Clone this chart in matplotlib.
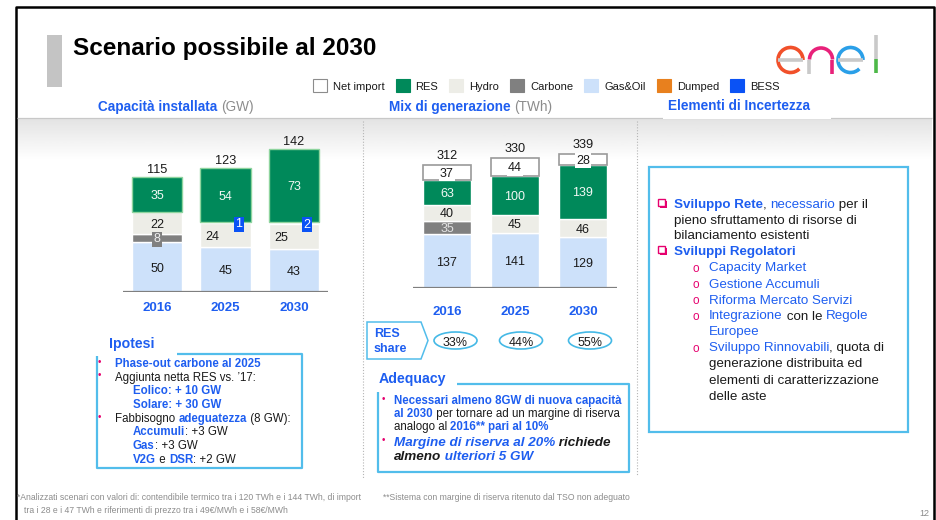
import numpy as np
import matplotlib
matplotlib.use("Agg")
import matplotlib.pyplot as plt
from matplotlib import patches

plt.rcParams['font.family'] = ['Liberation Sans', 'DejaVu Sans']

# --- data ---
years = ['2016', '2025', '2030']

cap_gas = np.array([50, 45, 43])
cap_carbone = np.array([8, 0, 0])
cap_hydro = np.array([22, 24, 25])
cap_bess = np.array([0, 1, 2])
cap_res = np.array([35, 54, 73])
cap_total = [115, 123, 142]

gen_gas = np.array([137, 141, 129])
gen_carbone = np.array([35, 0, 0])
gen_hydro = np.array([40, 45, 46])
gen_res = np.array([63, 100, 139])
gen_import = np.array([37, 44, 28])
gen_total = [312, 330, 339]
res_share = ['33%', '44%', '55%']

legend_labels = ['Net import', 'RES', 'Hydro', 'Carbone', 'Gas&Oil', 'Dumped', 'BESS']

# colours
C_IMPORT = 'white'
C_RES = '#00895A'
C_HYDRO = '#EDEDE7'
C_CARB = '#808080'
C_GAS = '#CDE1FA'
C_DUMP = '#E8801E'
C_BESS = '#0A52F5'
legend_colors = [C_IMPORT, C_RES, C_HYDRO, C_CARB, C_GAS, C_DUMP, C_BESS]
BLUE = '#1E5EF0'
BLACK = '#1A1A1A'
PINK = '#E6006E'
FRAME_BLUE = '#52BDEB'

W, H = 937, 520
fig = plt.figure(figsize=(W / 100, H / 100), dpi=100)
ov = fig.add_axes([0, 0, 1, 1])
ov.set_xlim(0, W)
ov.set_ylim(H, 0)
ov.axis('off')
renderer = fig.canvas.get_renderer()


def text_width(s, size, weight='normal', style='normal'):
    # width of s including its spaces: measure '|s|' and subtract '||'
    kw = dict(fontsize=size, fontweight=weight, fontstyle=style)
    t1 = ov.text(0, 0, '|' + s + '|', **kw)
    t2 = ov.text(0, 0, '||', **kw)
    w = t1.get_window_extent(renderer).width - t2.get_window_extent(renderer).width
    t1.remove()
    t2.remove()
    return w


def runs(x, y, parts, size):
    for p in parts:
        s, col = p[0], p[1]
        wt = p[2] if len(p) > 2 else 'normal'
        st = p[3] if len(p) > 3 else 'normal'
        ov.text(x, y, s, fontsize=size, color=col, fontweight=wt, fontstyle=st,
                va='baseline', ha='left')
        x += text_width(s, size, wt, st)
    return x


def line(xs, ys, **kw):
    ov.plot(xs, ys, solid_capstyle='butt', **kw)


# --- slide frame, header band ---
line([16, 16, 934, 934], [520, 7, 7, 520], color='black', lw=1.8)
ov.add_patch(patches.Rectangle((47, 35), 15, 52, color='#C4C4C4', lw=0))
ov.text(73, 55, 'Scenario possibile al 2030', fontsize=17.5, fontweight='bold',
        color='black', va='baseline')

grad = np.linspace(0.89, 1.0, 60)[:, None]
ov.imshow(grad, extent=(17.5, 932.5, 160, 118), aspect='auto', cmap='gray',
          vmin=0, vmax=1, zorder=0)
ov.set_xlim(0, W)
ov.set_ylim(H, 0)
line([17.5, 932.5], [117.5, 117.5], color='#C8C8C8', lw=0.9)
ov.add_patch(patches.Rectangle((663, 95), 168, 23.5, color='white', lw=0, zorder=2))

# enel logo
LW = 2.6
GREY = '#C9C9C9'
ov.add_patch(patches.Arc((790.5, 60), 25, 25, theta1=45, theta2=360, color='#F1502A', lw=LW))
line([778, 803], [60, 60], color=GREY, lw=LW)
ov.add_patch(patches.Arc((821, 59.5), 23, 23, theta1=180, theta2=360, color='#E8217A', lw=LW))
line([809.5, 809.5], [59.5, 73.5], color=GREY, lw=LW)
line([832.5, 832.5], [59.5, 73.5], color='#E8217A', lw=LW)
ov.add_patch(patches.Arc((850.5, 60), 25, 25, theta1=45, theta2=360, color='#2A9FE8', lw=LW))
line([838, 863], [60, 60], color=GREY, lw=LW)
line([876.5, 876.5], [35, 59], color=GREY, lw=LW)
line([876.5, 876.5], [59, 73], color='#4DB848', lw=LW)

# legend
lx = 313
for lab, col in zip(legend_labels, legend_colors):
    ec = '#8C8C8C' if col == 'white' else col
    ov.add_patch(patches.Rectangle((lx, 79), 14, 13, fc=col, ec=ec, lw=0.8))
    tx = lx + 20
    ov.text(tx, 90, lab, fontsize=8, color=BLACK, va='baseline')
    lx = tx + text_width(lab, 8) + 11

# section headers
runs(98.5, 110.5, [('Capacità installata ', BLUE, 'bold'), ('(GW)', '#8C8C8C')], 9.8)
runs(389, 110.5, [('Mix di generazione ', BLUE, 'bold'), ('(TWh)', '#8C8C8C')], 9.8)
runs(668, 110.5, [('Elementi di Incertezza', BLUE, 'bold')], 9.8)

# dotted separators
for sx, y1 in [(363, 478), (637, 475)]:
    ov.plot([sx, sx], [121, y1], color='#B5B5B5', lw=0.8, ls=(0, (1, 1.6)))


# --- chart axes ---
def px_axes(x0, x1, ybase, ytop):
    ax = fig.add_axes([x0 / W, (H - ybase) / H, (x1 - x0) / W, (ybase - ytop) / H])
    ax.patch.set_alpha(0)
    for sp in ax.spines.values():
        sp.set_visible(False)
    ax.set_yticks([])
    ax.set_xlim(-0.5, 2.5)
    return ax


def seg(ax, x, vals, bottom, width, color, ec='white', lw=1.0, zorder=2):
    m = vals > 0
    ax.bar(x[m], vals[m], width, bottom=bottom[m], color=color, edgecolor=ec,
           linewidth=lw, zorder=zorder)


x = np.arange(3)

# left: installed capacity
ax1 = px_axes(122.75, 328.25, 292, 132)
ax1.set_ylim(0, 160)
bw = 0.73
b = np.zeros(3)
seg(ax1, x, cap_gas, b, bw, C_GAS)
for i in x:
    ax1.text(i, b[i] + cap_gas[i] / 2, str(cap_gas[i]), ha='center', va='center_baseline',
             fontsize=9, color=BLACK, zorder=5)
b = b + cap_gas
seg(ax1, x, cap_carbone, b, bw, C_CARB)
for i in x:
    if cap_carbone[i]:
        ax1.text(i, b[i] + cap_carbone[i] / 2, str(cap_carbone[i]), ha='center',
                 va='center_baseline', fontsize=9, color='#EEEEEE', zorder=5,
                 bbox=dict(boxstyle='square,pad=0.12', fc=C_CARB, ec='none'))
b = b + cap_carbone
seg(ax1, x, cap_hydro, b, bw, C_HYDRO)
for i in x:
    dx = -0.19 if cap_bess[i] else 0
    ax1.text(i + dx, b[i] + cap_hydro[i] / 2, str(cap_hydro[i]), ha='center',
             va='center_baseline', fontsize=9, color=BLACK, zorder=5)
b = b + cap_hydro
seg(ax1, x + 0.19, cap_bess, b, 0.16, C_BESS, ec='none')
for i in x:
    if cap_bess[i]:
        ax1.text(i + 0.19, b[i] + cap_bess[i] / 2, str(cap_bess[i]), ha='center',
                 va='center_baseline', fontsize=9, color='white', zorder=6,
                 bbox=dict(boxstyle='square,pad=0.12', fc=C_BESS, ec='none'))
b = b + cap_bess
seg(ax1, x, cap_res, b, bw, C_RES, ec='#8ED49E', lw=1.0, zorder=3)
for i in x:
    ax1.text(i, b[i] + cap_res[i] / 2, str(cap_res[i]), ha='center', va='center_baseline',
             fontsize=9, color='#F2F8F4', zorder=5)
b = b + cap_res
for i in x:
    ax1.annotate(str(cap_total[i]), (i, b[i]), xytext=(0, 3.2), textcoords='offset points',
                 ha='center', va='baseline', fontsize=9.2, color=BLACK)
ax1.axhline(0, color='#7F7F7F', lw=1.6, zorder=6)
ax1.set_xticks(x, years)
ax1.tick_params(axis='x', length=0, pad=7.5, labelsize=9.5, labelcolor=BLUE)
for t in ax1.get_xticklabels():
    t.set_fontweight('bold')

# middle: generation mix
ax2 = px_axes(413, 617, 288.3, 130.7)
ax2.set_ylim(0, 400)
bw = 0.70
b = np.zeros(3)
seg(ax2, x, gen_gas, b, bw, C_GAS)
for i in x:
    ax2.text(i, b[i] + gen_gas[i] / 2, str(gen_gas[i]), ha='center', va='center_baseline',
             fontsize=9, color=BLACK)
b = b + gen_gas
seg(ax2, x, gen_carbone, b, bw, C_CARB)
for i in x:
    if gen_carbone[i]:
        ax2.text(i, b[i] + gen_carbone[i] / 2, str(gen_carbone[i]), ha='center',
                 va='center_baseline', fontsize=9, color='#E2E2E2')
b = b + gen_carbone
seg(ax2, x, gen_hydro, b, bw, C_HYDRO)
for i in x:
    ax2.text(i, b[i] + gen_hydro[i] / 2, str(gen_hydro[i]), ha='center',
             va='center_baseline', fontsize=9, color=BLACK)
b = b + gen_hydro
seg(ax2, x, gen_res, b, bw, C_RES)
for i in x:
    ax2.text(i, b[i] + gen_res[i] / 2, str(gen_res[i]), ha='center', va='center_baseline',
             fontsize=9, color='#F2F8F4')
b = b + gen_res
seg(ax2, x, gen_import, b, bw, C_IMPORT, ec='#9A9A9A', lw=1.2)
for i in x:
    ax2.text(i, b[i] + gen_import[i] / 2, str(gen_import[i]), ha='center',
             va='center_baseline', fontsize=9, color=BLACK, zorder=5,
             bbox=dict(boxstyle='square,pad=0.1', fc='white', ec='none'))
b = b + gen_import
for i in x:
    ax2.annotate(str(gen_total[i]), (i, b[i]), xytext=(0, 4.3), textcoords='offset points',
                 ha='center', va='baseline', fontsize=9.2, color=BLACK)
ax2.axhline(0, color='#7F7F7F', lw=1.6, zorder=6)
ax2.set_xticks(x, years)
ax2.tick_params(axis='x', length=0, pad=12.5, labelsize=9.5, labelcolor=BLUE)
for t in ax2.get_xticklabels():
    t.set_fontweight('bold')

# RES share row
ov.add_patch(patches.Polygon([(367, 322), (421, 322), (428, 340.5), (421, 359), (367, 359)],
                             closed=True, fc='white', ec=FRAME_BLUE, lw=1.1))
ov.text(374, 337, 'RES', fontsize=9, fontweight='bold', color=BLUE, va='baseline')
ov.text(374, 352.5, 'share', fontsize=9, fontweight='bold', color=BLUE, va='baseline')
for cx, s in zip([455.5, 521, 590], res_share):
    ov.add_patch(patches.Ellipse((cx, 340.5), 43, 17, fc='white', ec='#45B9E6', lw=1.2))
    ov.text(cx, 341, s, fontsize=9, color=BLACK, ha='center', va='center_baseline')

# --- Elementi di Incertezza box ---
ov.add_patch(patches.Rectangle((649, 167), 259, 265, fc='white', ec=FRAME_BLUE, lw=1.6))


def checkbox(y):
    ov.add_patch(patches.Rectangle((660, y - 7.5), 7.5, 7.5, fc=PINK, ec='none'))
    ov.add_patch(patches.Rectangle((658, y - 9.5), 7.5, 7.5, fc='white', ec=PINK, lw=1.0))


RS = 9.6
checkbox(208)
runs(674, 208, [('Sviluppo Rete', BLUE, 'bold'), (', ', BLACK), ('necessario', BLUE),
                (' per il', BLACK)], RS)
runs(674, 224, [('pieno sfruttamento di risorse di', BLACK)], RS)
runs(674, 239, [('bilanciamento esistenti', BLACK)], RS)
checkbox(255)
runs(674, 255, [('Sviluppi Regolatori', BLUE, 'bold')], RS)
sub_lines = [
    (271.5, [('Capacity Market', BLUE)], True),
    (287.5, [('Gestione Accumuli', BLUE)], True),
    (303.5, [('Riforma Mercato Servizi', BLUE)], True),
    (319.5, [('Integrazione', BLUE), (' con le ', BLACK), ('Regole', BLUE)], True),
    (335.5, [('Europee', BLUE)], False),
    (351.5, [('Sviluppo Rinnovabili', BLUE), (', quota di', BLACK)], True),
    (367.5, [('generazione distribuita ed', BLACK)], False),
    (383.5, [('elementi di caratterizzazione', BLACK)], False),
    (399.5, [('delle aste', BLACK)], False),
]
for yy, parts, bullet in sub_lines:
    if bullet:
        ov.text(693, yy, 'o', fontsize=8.5, color=PINK, va='baseline')
    runs(709, yy, parts, RS)

# --- Ipotesi box ---
ov.text(109, 348, 'Ipotesi', fontsize=10.2, fontweight='bold', color=BLUE, va='baseline')
line([177, 302, 302, 97, 97], [354, 354, 468, 468, 356], color=FRAME_BLUE, lw=1.6)
IS = 8.3
ip_lines = [
    (366.7, 115, [('Phase-out carbone al 2025', BLUE, 'bold')], True),
    (380.5, 115, [('Aggiunta netta RES vs. ’17:', BLACK)], True),
    (394.2, 133, [('Eolico: + 10 GW', BLUE, 'bold')], False),
    (408, 133, [('Solare: + 30 GW', BLUE, 'bold')], False),
    (421.7, 115, [('Fabbisogno ', BLACK), ('adeguatezza', BLUE, 'bold'), (' (8 GW):', BLACK)], True),
    (435.4, 133, [('Accumuli', BLUE, 'bold'), (': +3 GW', BLACK)], False),
    (449.1, 133, [('Gas', BLUE, 'bold'), (': +3 GW', BLACK)], False),
    (462.8, 133, [('V2G', BLUE, 'bold'), (' e ', BLACK), ('DSR', BLUE, 'bold'), (': +2 GW', BLACK)], False),
]
for yy, xx, parts, bullet in ip_lines:
    if bullet:
        ov.text(99, yy - 2, '•', fontsize=7, color=PINK, va='baseline', ha='center')
    runs(xx, yy, parts, IS)

# --- Adequacy box ---
ov.text(379, 383.3, 'Adequacy', fontsize=10.2, fontweight='bold', color=BLUE, va='baseline')
line([457, 629, 629, 378, 378], [384, 384, 472, 472, 392], color=FRAME_BLUE, lw=1.6)
runs(394, 404, [('Necessari almeno 8GW di nuova capacità', BLUE, 'bold')], 8.3)
runs(394, 417, [('al 2030', BLUE, 'bold'), (' per tornare ad un margine di riserva', BLACK)], 8.3)
runs(394, 430, [('analogo al ', BLACK), ('2016** pari al 10%', BLUE, 'bold')], 8.3)
runs(394, 445.7, [('Margine di riserva al 20%', BLUE, 'bold', 'italic'),
                  (' richiede', BLACK, 'bold', 'italic')], 9.7)
runs(394, 460.5, [('almeno', BLACK, 'bold', 'italic'),
                  (' ulteriori 5 GW', BLUE, 'bold', 'italic')], 9.7)
for yy in [402, 443]:
    ov.text(383, yy, '•', fontsize=7, color=PINK, va='baseline', ha='center')

# --- footer ---
FG = '#8C8C8C'
ov.text(17, 500, '*Analizzati scenari con valori di: contendibile termico tra i 120 TWh e i 144 TWh, di import',
        fontsize=6.2, color=FG, va='baseline')
ov.text(24, 513, 'tra i 28 e i 47 TWh e riferimenti di prezzo tra i 49€/MWh e i 58€/MWh',
        fontsize=6.2, color=FG, va='baseline')
ov.text(383, 500, '**Sistema con margine di riserva ritenuto dal TSO non adeguato',
        fontsize=6.2, color=FG, va='baseline')
ov.text(929, 516, '12', fontsize=6.5, color=FG, va='baseline', ha='right')

fig.savefig('out.png', dpi=100)
